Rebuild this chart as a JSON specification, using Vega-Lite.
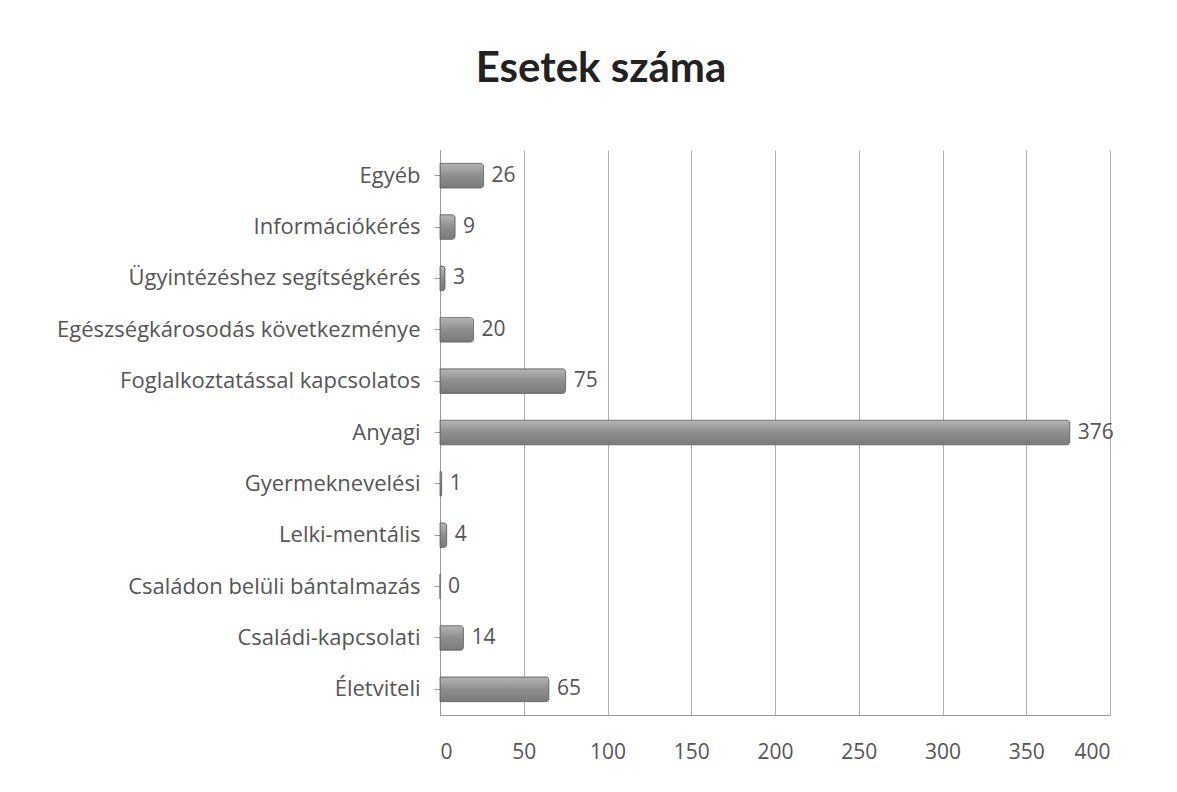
{
  "$schema": "https://vega.github.io/schema/vega-lite/v6.json",
  "autosize": {"type": "none"},
  "width": 670,
  "height": 565,
  "padding": {"left": 440, "top": 150, "right": 67, "bottom": 77},
  "background": "white",
  "title": {
    "text": "Esetek száma",
    "font": "Lato",
    "fontSize": 42,
    "fontWeight": "bold",
    "color": "#222222",
    "anchor": "middle",
    "dx": -174,
    "offset": 59
  },
  "config": {
    "view": {"stroke": null},
    "font": "Open Sans"
  },
  "data": {
    "values": [
      {"kategoria": "Egyéb", "eset": 26},
      {"kategoria": "Információkérés", "eset": 9},
      {"kategoria": "Ügyintézéshez segítségkérés", "eset": 3},
      {"kategoria": "Egészségkárosodás következménye", "eset": 20},
      {"kategoria": "Foglalkoztatással kapcsolatos", "eset": 75},
      {"kategoria": "Anyagi", "eset": 376},
      {"kategoria": "Gyermeknevelési", "eset": 1},
      {"kategoria": "Lelki-mentális", "eset": 4},
      {"kategoria": "Családon belüli bántalmazás", "eset": 0},
      {"kategoria": "Családi-kapcsolati", "eset": 14},
      {"kategoria": "Életviteli", "eset": 65}
    ]
  },
  "encoding": {
    "y": {
      "field": "kategoria",
      "type": "nominal",
      "sort": null,
      "scale": {"paddingInner": 0.52, "paddingOuter": 0.26},
      "axis": {
        "title": null,
        "labelFont": "Open Sans",
        "labelFontSize": 22,
        "labelColor": "#555555",
        "labelPadding": 14,
        "tickSize": 6,
        "tickColor": "#999999",
        "domainColor": "#999999",
        "labelLimit": 430
      }
    },
    "x": {
      "field": "eset",
      "type": "quantitative",
      "scale": {"domain": [0, 400], "nice": false},
      "axis": {
        "title": null,
        "values": [0, 50, 100, 150, 200, 250, 300, 350, 400],
        "labelFont": "Open Sans",
        "labelFontSize": 21,
        "labelColor": "#555555",
        "labelPadding": 26,
        "tickSize": 0,
        "domainColor": "#999999",
        "gridColor": "#b0b0b0",
        "gridWidth": 1
      }
    }
  },
  "layer": [
    {
      "mark": {
        "type": "bar",
        "cornerRadiusEnd": 3,
        "stroke": "#666666",
        "strokeWidth": 0.8,
        "color": {
          "gradient": "linear",
          "x1": 0, "y1": 0, "x2": 0, "y2": 1,
          "stops": [
            {"offset": 0, "color": "#b5b5b5"},
            {"offset": 0.5, "color": "#8e8e8e"},
            {"offset": 1, "color": "#7a7a7a"}
          ]
        }
      }
    },
    {
      "mark": {
        "type": "text",
        "align": "left",
        "baseline": "middle",
        "dx": 8,
        "fontSize": 21,
        "font": "Open Sans",
        "color": "#555555"
      },
      "encoding": {"text": {"field": "eset", "type": "quantitative"}}
    }
  ]
}
